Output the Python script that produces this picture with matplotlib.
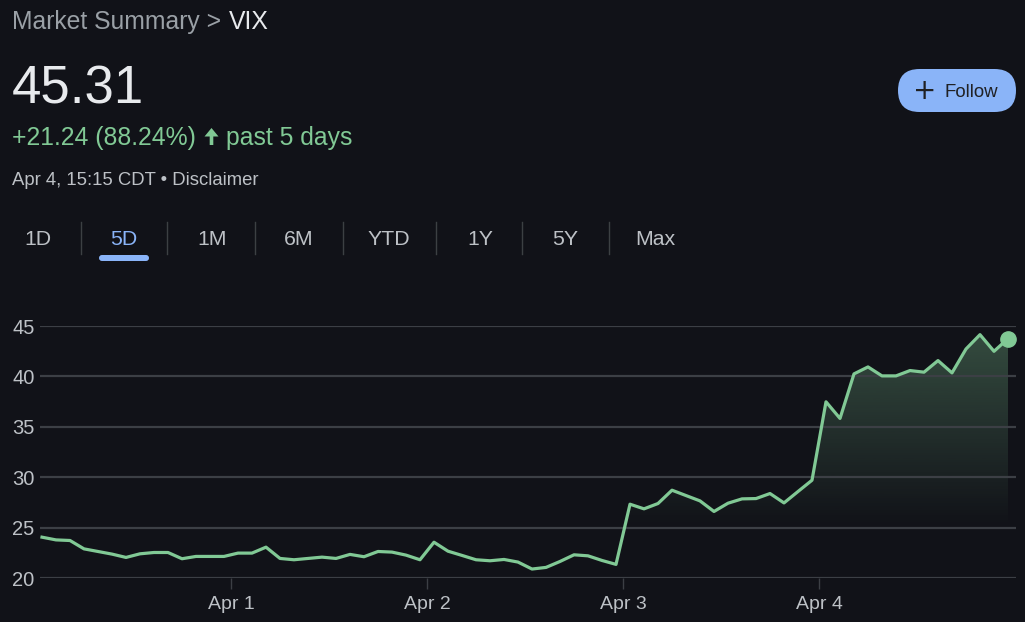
import numpy as np
import matplotlib
matplotlib.use("Agg")
import matplotlib.pyplot as plt
from matplotlib.patches import FancyBboxPatch, FancyArrow

# VIX, 5 days, 14 readings per day
vix = [24.05, 23.78, 23.72, 22.89, 22.63, 22.37, 22.04, 22.40, 22.53, 22.53, 21.91, 22.14, 22.14, 22.14,
       22.47, 22.47, 23.06, 21.94, 21.81, 21.94, 22.07, 21.94, 22.34, 22.11, 22.63, 22.57, 22.27, 21.81,
       23.55, 22.66, 22.24, 21.81, 21.71, 21.84, 21.58, 20.89, 21.05, 21.64, 22.30, 22.20, 21.74, 21.35,
       27.32, 26.86, 27.39, 28.71, 28.18, 27.65, 26.60, 27.42, 27.85, 27.88, 28.38, 27.45, 28.58, 29.70,
       37.48, 35.83, 40.25, 40.94, 40.05, 40.05, 40.58, 40.42, 41.57, 40.35, 42.72, 44.14, 42.49, 43.75]
points_per_day = 14
day_labels = ["Apr 1", "Apr 2", "Apr 3", "Apr 4"]
y_ticks = [20, 25, 30, 35, 40, 45]

symbol = "VIX"
price = "45.31"
change = "+21.24"
change_pct = "88.24%"
timestamp = "Apr 4, 15:15 CDT"
ranges = ["1D", "5D", "1M", "6M", "YTD", "1Y", "5Y", "Max"]
active_range = "5D"

BG = "#111218"
GREEN = "#81c995"
GRID = "#3c3f45"
GRAY = "#9aa0a6"
LIGHT = "#bdc1c6"
WHITE = "#e8eaed"
BLUE = "#8ab4f8"

W, H = 1025, 622
plt.rcParams["font.family"] = ["Liberation Sans", "DejaVu Sans"]

fig = plt.figure(figsize=(W / 100, H / 100), dpi=100, facecolor=BG)

# overlay in pixel coords (y down) for the header widgets
ov = fig.add_axes([0, 0, 1, 1])
ov.set_xlim(0, W)
ov.set_ylim(H, 0)
ov.axis("off")

ov.text(12, 29, "Market Summary > ", color=GRAY, fontsize=17.8, va="baseline")
ov.text(229, 29, symbol, color=WHITE, fontsize=17.8, va="baseline")
ov.text(12, 104, price, color=WHITE, fontsize=38, va="baseline")
ov.text(12, 145, f"{change} ({change_pct})", color=GREEN, fontsize=17.8, va="baseline")
ov.add_patch(FancyArrow(211.5, 145, 0, -17, width=3.6, head_width=14, head_length=8.5,
                        length_includes_head=True, color=GREEN, lw=0))
ov.text(226, 145, "past 5 days", color=GREEN, fontsize=17.8, va="baseline")
ov.text(12, 185, f"{timestamp} \u2022 Disclaimer", color=LIGHT, fontsize=13.3, va="baseline")

# follow button
ov.add_patch(FancyBboxPatch((898, 69), 118, 43, boxstyle="round,pad=0,rounding_size=21.5",
                            facecolor=BLUE, edgecolor="none"))
ov.text(925, 91, "+", color="#202124", fontsize=20, ha="center", va="center", family="DejaVu Sans")
ov.text(945, 97, "Follow", color="#202124", fontsize=13.4, va="baseline")

# range tabs
tab_x = [37.5, 124, 212, 298.5, 389, 480, 565.5, 655.5]
for name, cx in zip(ranges, tab_x):
    ov.text(cx, 245, name, fontsize=15.3, ha="center", va="baseline",
            color=BLUE if name == active_range else LIGHT)
for sx in [80.5, 167, 255, 342.5, 435.5, 522, 609]:
    ov.plot([sx, sx], [222, 254], color="#3c4043", lw=1)
ux = tab_x[ranges.index(active_range)]
ov.add_patch(FancyBboxPatch((ux - 25, 255), 50, 6, boxstyle="round,pad=0,rounding_size=3",
                            facecolor=BLUE, edgecolor="none"))

# chart
ax = fig.add_axes([40 / W, 1 - 578 / H, (1016 - 40) / W, (578 - 326) / H])
ax.set_facecolor("none")
x = np.arange(len(vix))

# gradient fill under the line
grad = np.linspace(20, 45, 256)[:, None]
alpha = np.clip((grad - 25) / 20, 0, 1) * 0.33
rgba = np.zeros((256, 1, 4))
rgba[..., :3] = matplotlib.colors.to_rgb(GREEN)
rgba[..., 3] = alpha
poly = ax.fill_between(x, vix, 20, color="none", lw=0)
img = ax.imshow(rgba, extent=[x[0], x[-1], 20, 45], origin="lower", aspect="auto", zorder=1)
img.set_clip_path(poly.get_paths()[0], transform=ax.transData)
ax.set_xlim(-2 / points_per_day, (1016 - 42) / 14)
ax.set_ylim(20, 45)

for t in y_ticks:
    ax.axhline(t, color=GRID, lw=1.6, zorder=2)

ax.plot(x, vix, color=GREEN, lw=2.3, zorder=3, clip_on=False)
ax.plot(x[-1], vix[-1], "o", color=GREEN, ms=11, zorder=4, clip_on=False)

ax.set_yticks(y_ticks)
ax.set_yticklabels([str(t) for t in y_ticks])
tick_pos = [points_per_day * (i + 1) - 0.5 for i in range(len(day_labels))]
ax.set_xticks(tick_pos)
ax.set_xticklabels(day_labels)
ax.tick_params(axis="y", length=0, pad=4, labelsize=14.5, labelcolor=LIGHT)
ax.tick_params(axis="x", length=8, width=1, color=GRID, pad=5, labelsize=14, labelcolor=LIGHT)
for s in ax.spines.values():
    s.set_visible(False)

fig.savefig("out.png", dpi=100, facecolor=BG)
